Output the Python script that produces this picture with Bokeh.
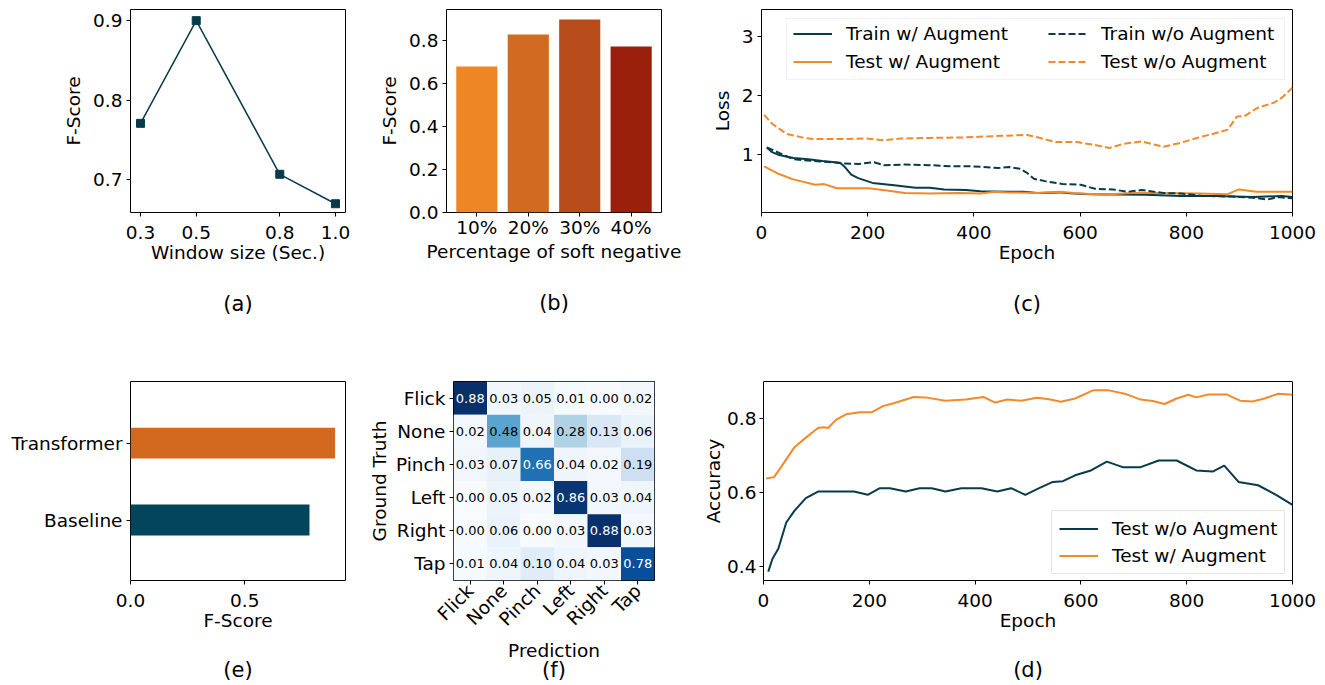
import math
from bokeh.plotting import figure
from bokeh.layouts import row, column
from bokeh.models import (Range1d, FixedTicker, LinearAxis, NumeralTickFormatter,
                          Legend, LegendItem, BoxAnnotation, ColumnDataSource)
from bokeh.transform import linear_cmap
from bokeh.palettes import Blues256
from bokeh.core.properties import value
from bokeh.embed import file_html
from bokeh.resources import INLINE

# ---------------- data ----------------
window_sizes = [0.3, 0.5, 0.8, 1.0]
window_labels = ["0.3", "0.5", "0.8", "1.0"]
window_fscore = [0.771, 0.900, 0.707, 0.670]

neg_labels = ["10%", "20%", "30%", "40%"]
neg_fscore = [0.679, 0.828, 0.898, 0.772]

train_aug_epoch = [10, 20, 33, 60, 88, 115, 148, 158, 169, 182, 209, 250, 290, 317, 344, 385, 412,
                   466, 493, 520, 560, 588, 621, 723, 790, 858, 926, 980, 1000]
train_aug_loss = [1.12, 1.04, 0.99, 0.94, 0.92, 0.89, 0.86, 0.78, 0.66, 0.60, 0.52, 0.48, 0.44, 0.44,
                  0.41, 0.40, 0.38, 0.37, 0.37, 0.35, 0.36, 0.34, 0.33, 0.32, 0.30, 0.30, 0.28, 0.30, 0.28]

train_noaug_epoch = [10, 60, 114, 155, 182, 212, 230, 270, 317, 358, 398, 446, 466, 486, 500, 513, 534,
                     567, 601, 628, 662, 689, 716, 757, 790, 831, 885, 926, 953, 973, 1000]
train_noaug_loss = [1.12, 0.92, 0.88, 0.85, 0.84, 0.87, 0.82, 0.83, 0.82, 0.80, 0.80, 0.77, 0.79, 0.76,
                    0.69, 0.59, 0.55, 0.50, 0.49, 0.42, 0.41, 0.37, 0.40, 0.35, 0.34, 0.30, 0.29, 0.27,
                    0.24, 0.28, 0.26]

test_aug_epoch = [5, 33, 60, 101, 118, 142, 169, 202, 236, 270, 317, 371, 412, 439, 466, 520, 561, 588,
                  642, 696, 757, 824, 878, 899, 932, 1000]
test_aug_loss = [0.80, 0.67, 0.58, 0.49, 0.50, 0.43, 0.43, 0.43, 0.39, 0.35, 0.34, 0.35, 0.34, 0.37,
                 0.36, 0.35, 0.37, 0.35, 0.32, 0.35, 0.35, 0.34, 0.33, 0.41, 0.37, 0.37]

test_noaug_epoch = [5, 20, 47, 81, 101, 148, 196, 230, 263, 317, 385, 439, 500, 520, 554, 595, 628, 655,
                    682, 716, 757, 790, 824, 851, 878, 895, 912, 932, 966, 980, 1000]
test_noaug_loss = [1.67, 1.52, 1.35, 1.28, 1.26, 1.26, 1.27, 1.24, 1.27, 1.28, 1.29, 1.31, 1.33, 1.29,
                   1.21, 1.21, 1.16, 1.11, 1.18, 1.22, 1.13, 1.20, 1.29, 1.35, 1.42, 1.64, 1.66, 1.78,
                   1.88, 1.96, 2.13]

models = ["Baseline", "Transformer"]
model_fscore = [0.783, 0.895]

gestures = ["Flick", "None", "Pinch", "Left", "Right", "Tap"]
conf_matrix = [
    [0.88, 0.03, 0.05, 0.01, 0.00, 0.02],
    [0.02, 0.48, 0.04, 0.28, 0.13, 0.06],
    [0.03, 0.07, 0.66, 0.04, 0.02, 0.19],
    [0.00, 0.05, 0.02, 0.86, 0.03, 0.04],
    [0.00, 0.06, 0.00, 0.03, 0.88, 0.03],
    [0.01, 0.04, 0.10, 0.04, 0.03, 0.78],
]

acc_noaug_epoch = [9, 17, 28, 43, 58, 80, 103, 171, 197, 220, 239, 269, 295, 318, 344, 374, 412, 442,
                   468, 495, 521, 547, 566, 589, 619, 649, 679, 713, 747, 781, 818, 849, 871, 898, 935,
                   969, 1000]
acc_noaug = [0.386, 0.421, 0.448, 0.519, 0.550, 0.585, 0.603, 0.603, 0.594, 0.612, 0.612, 0.603, 0.612,
             0.612, 0.603, 0.612, 0.612, 0.603, 0.612, 0.594, 0.612, 0.629, 0.631, 0.647, 0.660, 0.684,
             0.669, 0.669, 0.687, 0.687, 0.660, 0.657, 0.673, 0.629, 0.620, 0.594, 0.567]

acc_aug_epoch = [5, 20, 35, 58, 80, 103, 114, 122, 137, 156, 182, 205, 227, 246, 284, 306, 344, 382, 416,
                 438, 461, 487, 517, 540, 562, 589, 623, 653, 683, 713, 736, 758, 781, 803, 818, 841,
                 875, 901, 924, 947, 973, 1000]
acc_aug = [0.638, 0.642, 0.673, 0.722, 0.749, 0.775, 0.777, 0.775, 0.797, 0.812, 0.818, 0.818, 0.835,
           0.842, 0.859, 0.858, 0.849, 0.852, 0.859, 0.844, 0.852, 0.849, 0.857, 0.853, 0.846, 0.855,
           0.877, 0.877, 0.868, 0.852, 0.848, 0.840, 0.855, 0.865, 0.858, 0.866, 0.866, 0.849, 0.847,
           0.855, 0.868, 0.865]

# ---------------- style ----------------
FONT = "DejaVu Sans"
FS = "18.5px"
DARK = "#073b4c"
ORANGE = "#f28a2a"
BAR_COLORS = ["#ee8626", "#d26b22", "#b94c1b", "#9b200c"]
MODEL_COLORS = ["#03465c", "#d2691e"]


def style_axis(ax):
    ax.axis_line_color = None
    ax.major_tick_out = 4
    ax.major_tick_in = 0
    ax.minor_tick_out = 0
    ax.minor_tick_in = 0
    ax.major_tick_line_color = "black"
    ax.major_label_text_font = FONT
    ax.major_label_text_font_size = FS
    ax.major_label_text_color = "black"
    ax.major_label_standoff = 4
    ax.axis_label_text_font = FONT
    ax.axis_label_text_font_size = FS
    ax.axis_label_text_font_style = "normal"
    ax.axis_label_text_color = "black"
    ax.axis_label_standoff = 6


def make_fig(w, h, xr, yr, bl, br, bt, bb):
    p = figure(width=w, height=h, x_range=Range1d(*xr), y_range=Range1d(*yr),
               output_backend="svg", toolbar_location=None,
               min_border_left=bl, min_border_right=br, min_border_top=bt, min_border_bottom=bb)
    p.xgrid.visible = False
    p.ygrid.visible = False
    p.outline_line_color = "black"
    p.outline_line_width = 1
    p.outline_line_alpha = 1
    p.background_fill_color = "white"
    p.border_fill_color = "white"
    for ax in p.axis:
        style_axis(ax)
    for ax in p.xaxis:
        ax.major_label_standoff = 9
        ax.axis_label_standoff = 0
    return p


def caption(p, text, standoff):
    ax = LinearAxis(ticker=FixedTicker(ticks=[]), axis_label=text, axis_line_color=None,
                    major_tick_out=0, major_tick_in=0, minor_tick_out=0, minor_tick_in=0,
                    major_label_standoff=0, axis_label_standoff=standoff,
                    axis_label_text_font=FONT, axis_label_text_font_size="21px",
                    axis_label_text_font_style="normal", axis_label_text_color="black")
    p.add_layout(ax, "below")


TOP_H = 326
BOT_H = 358

# ---------------- (a) ----------------
pa = make_fig(365, TOP_H, (0.264, 1.036), (0.659, 0.914), 130, 20, 9, TOP_H - 212)
pa.line(window_sizes, window_fscore, line_color=DARK, line_width=1.5)
pa.scatter(window_sizes, window_fscore, marker="square", size=8, fill_color=DARK, line_color=DARK)
pa.xaxis.ticker = FixedTicker(ticks=window_sizes)
pa.xaxis.major_label_overrides = dict(zip(window_sizes, window_labels))
pa.yaxis.ticker = FixedTicker(ticks=[0.7, 0.8, 0.9])
pa.yaxis.formatter = NumeralTickFormatter(format="0.0")
pa.xaxis.axis_label = "Window size (Sec.)"
pa.yaxis.axis_label = "F-Score"
caption(pa, "(a)", 26)

# ---------------- (b) ----------------
pb = make_fig(335, TOP_H, (-0.59, 3.59), (0, 0.944), 81, 39, 9, TOP_H - 212)
neg_x = list(range(len(neg_labels)))
pb.vbar(x=neg_x, top=neg_fscore, width=0.8, fill_color=BAR_COLORS, line_color=None)
pb.xaxis.ticker = FixedTicker(ticks=neg_x)
pb.xaxis.major_label_overrides = dict(zip(neg_x, neg_labels))
pb.xaxis.major_label_standoff = 0
pb.yaxis.ticker = FixedTicker(ticks=[0, 0.2, 0.4, 0.6, 0.8])
pb.yaxis.formatter = NumeralTickFormatter(format="0.0")
pb.xaxis.axis_label = "Percentage of soft negative"
pb.yaxis.axis_label = "F-Score"
caption(pb, "(b)", 26)

# ---------------- (c) ----------------
pc = make_fig(620, TOP_H, (0, 1000), (0.02, 3.45), 61, 28, 9, TOP_H - 212)
r_tr_aug = pc.line(train_aug_epoch, train_aug_loss, line_color=DARK, line_width=2)
r_te_aug = pc.line(test_aug_epoch, test_aug_loss, line_color=ORANGE, line_width=2)
r_tr_no = pc.line(train_noaug_epoch, train_noaug_loss, line_color=DARK, line_width=2, line_dash="7 3")
r_te_no = pc.line(test_noaug_epoch, test_noaug_loss, line_color=ORANGE, line_width=2, line_dash="7 3")
pc.xaxis.ticker = FixedTicker(ticks=[0, 200, 400, 600, 800, 1000])
pc.yaxis.ticker = FixedTicker(ticks=[1, 2, 3])
pc.xaxis.axis_label = "Epoch"
pc.yaxis.axis_label = "Loss"
caption(pc, "(c)", 26)

pc.add_layout(BoxAnnotation(left=47, right=985, bottom=2.268, top=3.298, fill_color="white",
                            fill_alpha=0.8, line_color="#cccccc", line_width=1))


def mk_legend(items, loc):
    return Legend(items=items, location=loc, orientation="vertical", border_line_color=None,
                  background_fill_alpha=0, padding=7, spacing=7, margin=0, glyph_width=39,
                  glyph_height=21, label_height=21, label_standoff=14, label_text_font=FONT,
                  label_text_font_size=FS, label_text_color="black")


pc.add_layout(mk_legend([LegendItem(label="Train w/ Augment", renderers=[r_tr_aug]),
                         LegendItem(label="Test w/ Augment", renderers=[r_te_aug])], (32, 140)), "center")
pc.add_layout(mk_legend([LegendItem(label="Train w/o Augment", renderers=[r_tr_no]),
                         LegendItem(label="Test w/o Augment", renderers=[r_te_no])], (287, 140)), "center")

# ---------------- (e) ----------------
pe = make_fig(365, BOT_H, (0, 0.9405), (-0.786, 1.80), 130, 20, 381 - TOP_H, BOT_H - (381 - TOP_H) - 202)
model_y = list(range(len(models)))
pe.hbar(y=model_y, right=model_fscore, left=0, height=0.4, fill_color=MODEL_COLORS, line_color=None)
pe.yaxis.ticker = FixedTicker(ticks=model_y)
pe.yaxis.major_label_overrides = dict(zip(model_y, models))
pe.xaxis.ticker = FixedTicker(ticks=[0, 0.5])
pe.xaxis.formatter = NumeralTickFormatter(format="0.0")
pe.xaxis.axis_label = "F-Score"
caption(pe, "(e)", 24)

# ---------------- (f) ----------------
pf = make_fig(335, BOT_H, (-0.5, 5.5), (-0.5, 5.5), 86, 46, 380 - TOP_H, BOT_H - (380 - TOP_H) - 204)
n = len(gestures)
xs, ys, vals, txt, tcol = [], [], [], [], []
for i in range(n):
    for j in range(n):
        v = conf_matrix[i][j]
        xs.append(j)
        ys.append(n - 1 - i)
        vals.append(v)
        txt.append(f"{v:.2f}")
        tcol.append("white" if v > 0.5 else "black")
src = ColumnDataSource(dict(x=xs, y=ys, v=vals, t=txt, c=tcol))
pf.rect("x", "y", width=1, height=1, source=src, line_color=None,
        fill_color=linear_cmap("v", list(Blues256)[::-1], 0, 0.88))
pf.text("x", "y", text="t", source=src, text_color="c", text_align="center", text_baseline="middle",
        text_font=value(FONT), text_font_size=value("13px"))
pf.xaxis.ticker = FixedTicker(ticks=list(range(n)))
pf.xaxis.major_label_overrides = {j: g for j, g in enumerate(gestures)}
pf.xaxis.major_label_orientation = math.pi / 4
pf.xaxis.major_label_standoff = 3
pf.yaxis.ticker = FixedTicker(ticks=list(range(n)))
pf.yaxis.major_label_overrides = {n - 1 - i: g for i, g in enumerate(gestures)}
pf.xaxis.axis_label = "Prediction"
pf.yaxis.axis_label = "Ground Truth"
pf.xaxis.axis_label_standoff = 0
pf.yaxis.axis_label_standoff = 3
caption(pf, "(f)", -7)

# ---------------- (d) ----------------
pd_ = make_fig(620, BOT_H, (0, 1000), (0.362, 0.901), 61, 28, 381 - TOP_H, BOT_H - (381 - TOP_H) - 203)
r_acc_no = pd_.line(acc_noaug_epoch, acc_noaug, line_color=DARK, line_width=2)
r_acc_aug = pd_.line(acc_aug_epoch, acc_aug, line_color=ORANGE, line_width=2)
pd_.xaxis.ticker = FixedTicker(ticks=[0, 200, 400, 600, 800, 1000])
pd_.yaxis.ticker = FixedTicker(ticks=[0.4, 0.6, 0.8])
pd_.yaxis.formatter = NumeralTickFormatter(format="0.0")
pd_.yaxis.major_label_standoff = 3
pd_.xaxis.axis_label = "Epoch"
pd_.yaxis.axis_label = "Accuracy"
pd_.yaxis.axis_label_standoff = 0
caption(pd_, "(d)", 24)
leg_d = Legend(items=[LegendItem(label="Test w/o Augment", renderers=[r_acc_no]),
                      LegendItem(label="Test w/ Augment", renderers=[r_acc_aug])],
               location=(288, 6), orientation="vertical", border_line_color="#cccccc",
               border_line_width=1, background_fill_color="white", background_fill_alpha=0.8,
               padding=7, spacing=6, margin=0, glyph_width=39, glyph_height=21, label_height=21,
               label_standoff=14, label_text_font=FONT, label_text_font_size=FS,
               label_text_color="black")
pd_.add_layout(leg_d, "center")

layout = column(row(pa, pb, pc), row(pe, pf, pd_))

with open("out.html", "w") as f:
    f.write(file_html(layout, INLINE))
